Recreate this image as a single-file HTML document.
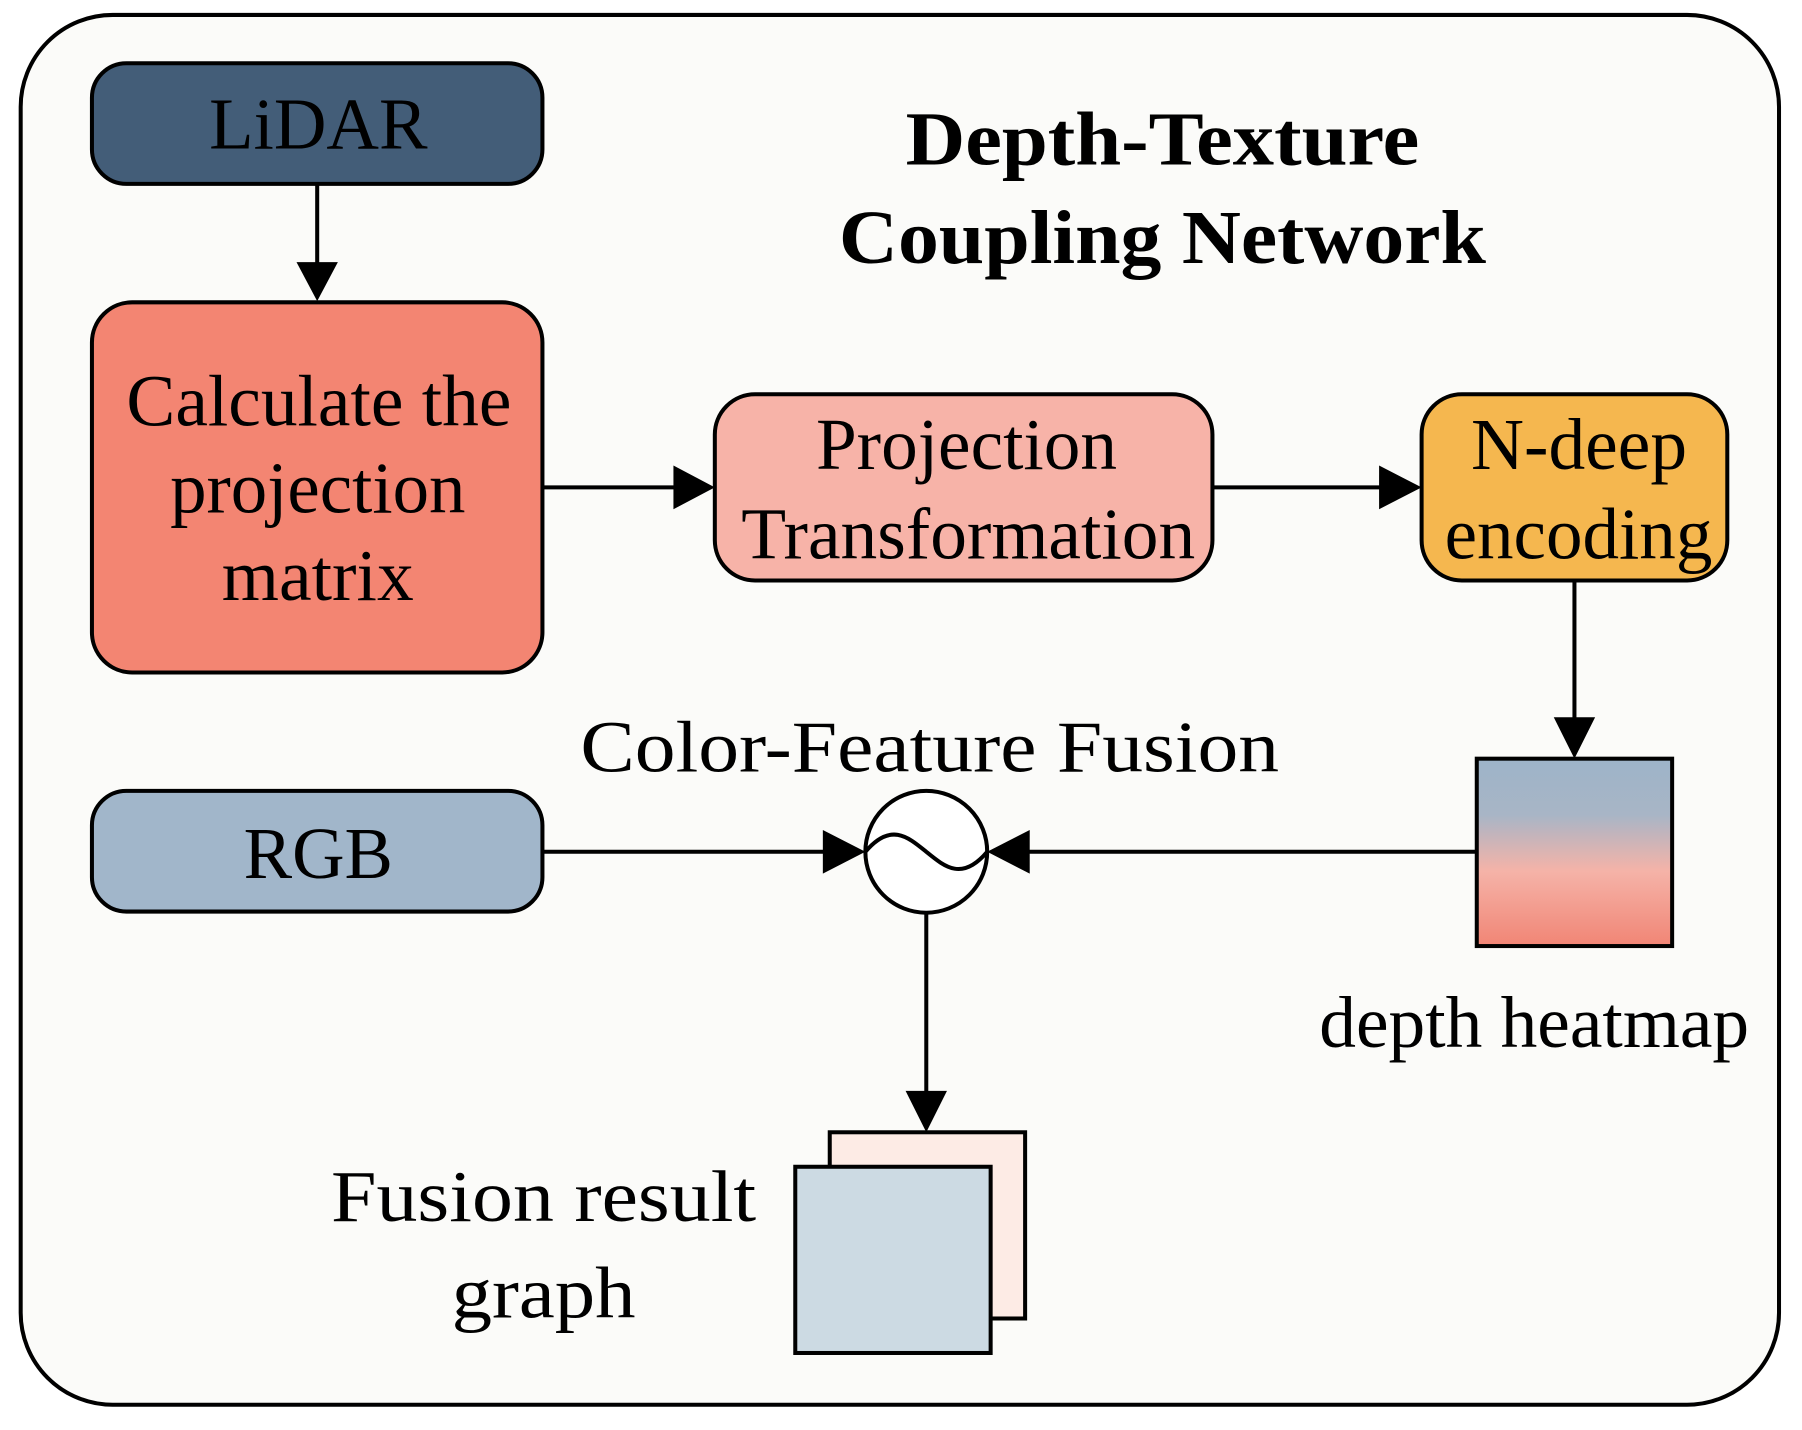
<!DOCTYPE html>
<html><head><meta charset="utf-8"><style>html,body{margin:0;padding:0;background:#fff}svg{display:block}</style></head>
<body>
<svg width="1802" height="1430" viewBox="0 0 1568 1244" preserveAspectRatio="none" xmlns="http://www.w3.org/2000/svg" font-family="'Liberation Serif', serif">
<defs>
<linearGradient id="hm" x1="0" y1="0" x2="0" y2="1">
<stop offset="0" stop-color="#9db4c8"/><stop offset="0.3" stop-color="#a8b5c6"/><stop offset="0.6" stop-color="#f5b3a8"/><stop offset="1" stop-color="#f18575"/>
</linearGradient>
</defs>
<rect x="18" y="13" width="1530" height="1209" rx="80" fill="#fbfbf9" stroke="#000" stroke-width="3.5"/>
<g stroke="#000" stroke-width="3.5">
<rect x="80" y="55" width="392" height="105" rx="30" fill="#435d78"/>
<rect x="80" y="263" width="392" height="322" rx="35" fill="#f38572"/>
<rect x="622" y="343" width="433" height="162" rx="35" fill="#f7b3a8"/>
<rect x="1237" y="343" width="266" height="162" rx="35" fill="#f5b74f"/>
<rect x="1285" y="660" width="170" height="163" fill="url(#hm)"/>
<rect x="80" y="688" width="392" height="105" rx="30" fill="#a1b6ca"/>
<rect x="722" y="985" width="170" height="162" fill="#fdebe5"/>
<rect x="692" y="1015" width="170" height="162" fill="#ccdae3"/>
<circle cx="806" cy="741" r="53" fill="#fff"/>
<path d="M753 741 C775 715,790 728,806 741 C822 754,837 767,859 741" fill="none"/>
<line x1="276" y1="160" x2="276" y2="232"/>
<line x1="472" y1="424" x2="590" y2="424"/>
<line x1="1055" y1="424" x2="1205" y2="424"/>
<line x1="1370" y1="505" x2="1370" y2="628"/>
<line x1="472" y1="741" x2="720" y2="741"/>
<line x1="1285" y1="741" x2="892" y2="741"/>
<line x1="806" y1="794" x2="806" y2="953"/>
</g>
<g fill="#000">
<polygon points="258,228 294,228 276,262"/>
<polygon points="586,405 586,443 622,424"/>
<polygon points="1200,405 1200,443 1237,424"/>
<polygon points="1352,624 1388,624 1370,660"/>
<polygon points="716,722 716,760 753,741"/>
<polygon points="896,722 896,760 859,741"/>
<polygon points="788,949 824,949 806,985"/>
</g>
<g font-size="64" fill="#000" lengthAdjust="spacingAndGlyphs">
<text x="182" y="129" textLength="190" lengthAdjust="spacingAndGlyphs">LiDAR</text>
<text x="110" y="370" textLength="335" lengthAdjust="spacingAndGlyphs">Calculate the</text>
<text x="148" y="446" textLength="257" lengthAdjust="spacingAndGlyphs">projection</text>
<text x="193" y="522" textLength="167" lengthAdjust="spacingAndGlyphs">matrix</text>
<text x="710" y="408" textLength="262" lengthAdjust="spacingAndGlyphs">Projection</text>
<text x="645" y="486" textLength="395" lengthAdjust="spacingAndGlyphs">Transformation</text>
<text x="1280" y="408" textLength="188" lengthAdjust="spacingAndGlyphs">N-deep</text>
<text x="1257" y="486" textLength="233" lengthAdjust="spacingAndGlyphs">encoding</text>
<text x="212" y="764" textLength="130" lengthAdjust="spacingAndGlyphs">RGB</text>
<text x="505" y="671" textLength="608" lengthAdjust="spacingAndGlyphs">Color-Feature Fusion</text>
<text x="1148" y="911" textLength="374" lengthAdjust="spacingAndGlyphs">depth heatmap</text>
<text x="288" y="1062" textLength="370" lengthAdjust="spacingAndGlyphs">Fusion result</text>
<text x="393" y="1146" textLength="160" lengthAdjust="spacingAndGlyphs">graph</text>
<text x="788" y="143" font-weight="bold" font-size="66" textLength="447" lengthAdjust="spacingAndGlyphs">Depth-Texture</text>
<text x="730" y="229" font-weight="bold" font-size="66" textLength="563" lengthAdjust="spacingAndGlyphs">Coupling Network</text>
</g>
</svg>
</body></html>
